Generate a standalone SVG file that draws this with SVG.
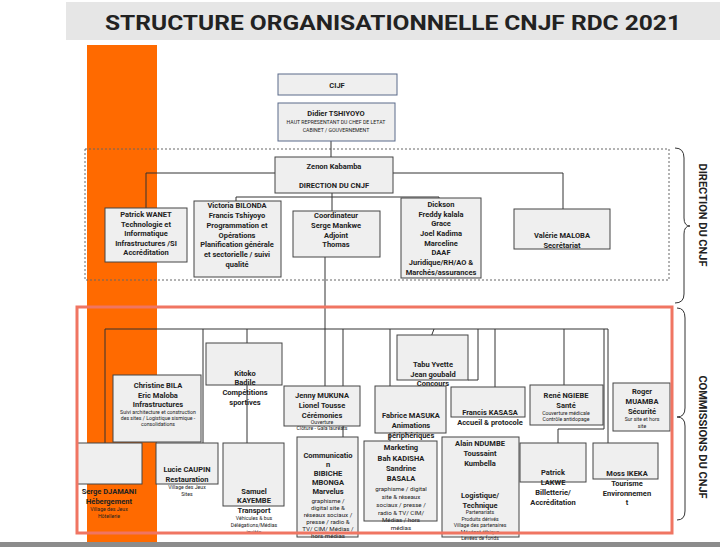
<svg xmlns="http://www.w3.org/2000/svg" width="720" height="547" viewBox="0 0 720 547">
<defs>
<style>
.box{fill:#efefef;stroke:#444;stroke-width:1}
.box2{fill:#efefef;stroke:#5a6a8a;stroke-width:1}
.ln{stroke:#333;stroke-width:1;fill:none}
.t{font-family:Roboto,"Liberation Sans",sans-serif;font-size:7.5px;font-weight:bold;fill:#222;text-anchor:middle}
.s{font-size:5.2px;font-weight:normal}
.m{font-size:6.2px;font-weight:normal}
.side{font-family:Roboto,"Liberation Sans",sans-serif;font-size:11px;font-weight:bold;fill:#222;text-anchor:middle}
</style>
</defs>
<rect x="0" y="0" width="720" height="547" fill="#ffffff"/>
<rect x="66" y="2" width="654" height="38" fill="#e6e6e6"/>
<text x="393" y="30" font-family="Roboto,'Liberation Sans',sans-serif" font-size="21" font-weight="bold" fill="#222" text-anchor="middle" textLength="576" lengthAdjust="spacingAndGlyphs">STRUCTURE ORGANISATIONNELLE CNJF RDC 2021</text>
<rect x="87" y="45" width="70" height="502" fill="#ff6a00"/>
<rect x="85" y="149" width="584" height="131" fill="none" stroke="#666" stroke-width="1" stroke-dasharray="2,2"/>

<g id="connectors">
<path class="ln" d="M331,141 V157"/>
<path class="ln" d="M275,173 H146 V208"/>
<path class="ln" d="M393,173 H563 V209"/>
<path class="ln" d="M332,190 V211"/>
<path class="ln" d="M236,201 V197 H439 V198"/>
<path class="ln" d="M325,257 V386"/>
<path class="ln" d="M105,329 H608"/>
<path class="ln" d="M105,329 V443"/>
<path class="ln" d="M203,329 V443"/>
<path class="ln" d="M247,329 V443"/>
<path class="ln" d="M343,329 V437"/>
<path class="ln" d="M390,329 V441"/>
<path class="ln" d="M431,337 L434,329"/>
<path class="ln" d="M478,329 V380 H468"/>
<path class="ln" d="M495,329 V387"/>
<path class="ln" d="M564,329 V385"/>
<path class="ln" d="M604,329 V429 H558 V443"/>
<path class="ln" d="M608,329 V443"/>
</g>

<g id="cijf"><rect class="box2" x="278" y="74" width="119" height="21"/><text class="t" x="337" y="88">CIJF</text></g>
<g id="didier"><rect class="box2" x="278" y="103" width="117" height="38"/>
<text class="t" x="336" y="116">Didier TSHIYOYO</text>
<text class="t s" x="336" y="124">HAUT REPRESENTANT DU CHEF DE LETAT</text>
<text class="t s" x="336" y="132">CABINET / GOUVERNEMENT</text></g>
<g id="zenon"><rect class="box" x="275" y="157" width="118" height="36"/>
<text class="t" x="334" y="169">Zenon Kabamba</text>
<text class="t" x="334" y="188">DIRECTION DU CNJF</text></g>

<g id="wanet"><rect class="box" x="105" y="208" width="82" height="54"/>
<text class="t" x="146" y="217">Patrick WANET</text>
<text class="t" x="146" y="227">Technologie et</text>
<text class="t" x="146" y="236">Informatique</text>
<text class="t" x="146" y="246">Infrastructures /SI</text>
<text class="t" x="146" y="255">Accréditation</text></g>
<g id="victoria"><rect class="box" x="194" y="201" width="87" height="76"/>
<text class="t" x="237" y="208">Victoria BILONDA</text>
<text class="t" x="237" y="218">Francis Tshiyoyo</text>
<text class="t" x="237" y="228">Programmation et</text>
<text class="t" x="237" y="238">Opérations</text>
<text class="t" x="237" y="247">Planification générale</text>
<text class="t" x="237" y="257">et sectorielle / suivi</text>
<text class="t" x="237" y="267">qualité</text></g>
<g id="coord"><rect class="box" x="293" y="211" width="87" height="46"/>
<text class="t" x="336" y="218">Coordinateur</text>
<text class="t" x="336" y="228">Serge Mankwe</text>
<text class="t" x="336" y="238">Adjoint</text>
<text class="t" x="336" y="247">Thomas</text></g>
<g id="dickson"><rect class="box" x="401" y="198" width="80" height="80"/>
<text class="t" x="441" y="207">Dickson</text>
<text class="t" x="441" y="217">Freddy kalala</text>
<text class="t" x="441" y="226">Grace</text>
<text class="t" x="441" y="236">Joel Kadima</text>
<text class="t" x="441" y="246">Marceline</text>
<text class="t" x="441" y="255">DAAF</text>
<text class="t" x="441" y="265">Juridique/RH/AO &amp;</text>
<text class="t" x="441" y="275">Marchés/assurances</text></g>
<g id="valerie"><rect class="box" x="514" y="209" width="96" height="40"/>
<text class="t" x="562" y="238">Valérie MALOBA</text>
<text class="t" x="562" y="248">Secrétariat</text></g>

<g id="christine"><rect class="box" x="113" y="375" width="88" height="67"/>
<text class="t" x="158" y="388">Christine BILA</text>
<text class="t" x="158" y="398">Eric Maloba</text>
<text class="t" x="158" y="407">Infrastructures</text>
<text class="t s" x="158" y="414">Suivi architecture et construction</text>
<text class="t s" x="158" y="420">des sites / Logistique sismique -</text>
<text class="t s" x="158" y="426">consolidations</text></g>
<g id="kitoko"><rect class="box" x="206" y="343" width="76" height="42"/>
<text class="t" x="245" y="376">Kitoko</text>
<text class="t" x="245" y="385">Badile</text>
<text class="t" x="245" y="395">Compétitions</text>
<text class="t" x="245" y="405">sportives</text></g>
<g id="serge"><rect class="box" x="77" y="443" width="65" height="41"/>
<text class="t" x="109" y="494">Serge DJAMANI</text>
<text class="t" x="109" y="504">Hébergement</text>
<text class="t s" x="109" y="511">Village des Jeux</text>
<text class="t s" x="109" y="518">Hôtellerie</text></g>
<g id="lucie"><rect class="box" x="156" y="443" width="62" height="41"/>
<text class="t" x="187" y="472">Lucie CAUPIN</text>
<text class="t" x="187" y="482">Restauration</text>
<text class="t s" x="187" y="489">Village des Jeux</text>
<text class="t s" x="187" y="496">Sites</text></g>
<g id="samuel"><rect class="box" x="223" y="443" width="61" height="63"/>
<text class="t" x="254" y="494">Samuel</text>
<text class="t" x="254" y="503">KAYEMBE</text>
<text class="t" x="254" y="513">Transport</text>
<text class="t s" x="254" y="520">Véhicules &amp; bus</text>
<text class="t s" x="254" y="527">Délégations/Médias</text>
<text class="t s" x="254" y="534">invités</text></g>
<g id="jenny"><rect class="box" x="284" y="386" width="76" height="40"/>
<text class="t" x="322" y="398">Jenny MUKUNA</text>
<text class="t" x="322" y="408">Lionel Tousse</text>
<text class="t" x="322" y="418">Cérémonies</text>
<text class="t s" x="322" y="424">Ouverture</text>
<text class="t s" x="322" y="430">Clôture - Gala lauréats</text></g>
<g id="communication"><rect class="box" x="297" y="437" width="61" height="100"/>
<text class="t" x="328" y="458">Communicatio</text>
<text class="t" x="328" y="467">n</text>
<text class="t" x="328" y="476">BIBICHE</text>
<text class="t" x="328" y="485">MBONGA</text>
<text class="t" x="328" y="494">Marvelus</text>
<text class="t m" x="328" y="503">graphisme /</text>
<text class="t m" x="328" y="510">digital site &amp;</text>
<text class="t m" x="328" y="517">réseaux sociaux /</text>
<text class="t m" x="328" y="524">presse / radio &amp;</text>
<text class="t m" x="328" y="531">TV/ CIM/ Médias /</text>
<text class="t m" x="328" y="538">hors médias</text></g>
<g id="tabu"><rect class="box" x="397" y="335" width="71" height="45"/>
<text class="t" x="433" y="367">Tabu Yvette</text>
<text class="t" x="433" y="377">Jean goubald</text>
<text class="t" x="433" y="386">Concours</text></g>
<g id="fabrice"><rect class="box" x="375" y="386" width="71" height="47"/>
<text class="t" x="411" y="418">Fabrice MASUKA</text>
<text class="t" x="411" y="428">Animations</text>
<text class="t" x="411" y="438">périphériques</text></g>
<g id="marketing"><rect class="box" x="364" y="441" width="73" height="80"/>
<text class="t" x="401" y="450" font-size="8.5">Marketing</text>
<text class="t" x="401" y="461">Bah KADISHA</text>
<text class="t" x="401" y="471">Sandrine</text>
<text class="t" x="401" y="481">BASALA</text>
<text class="t m" x="401" y="491">graphisme / digital</text>
<text class="t m" x="401" y="499">site &amp; réseaux</text>
<text class="t m" x="401" y="507">sociaux / presse /</text>
<text class="t m" x="401" y="515">radio &amp; TV/ CIM/</text>
<text class="t m" x="401" y="522">Médias / hors</text>
<text class="t m" x="401" y="530">médias</text></g>
<g id="francis"><rect class="box" x="451" y="387" width="74" height="30"/>
<text class="t" x="490" y="415">Francis KASASA</text>
<text class="t" x="490" y="425">Accueil &amp; protocole</text></g>
<g id="alain"><rect class="box" x="442" y="437" width="77" height="100"/>
<text class="t" x="480" y="446">Alain NDUMBE</text>
<text class="t" x="480" y="456">Toussaint</text>
<text class="t" x="480" y="466">Kumbella</text>
<text class="t" x="480" y="498">Logistique/</text>
<text class="t" x="480" y="508">Technique</text>
<text class="t s" x="480" y="514">Partenariats</text>
<text class="t s" x="480" y="521">Produits dérivés</text>
<text class="t s" x="480" y="527">Village des partenaires</text>
<text class="t s" x="480" y="534">Mécénat éthique</text>
<text class="t s" x="480" y="540">Levées de fonds</text></g>
<g id="rene"><rect class="box" x="530" y="385" width="73" height="40"/>
<text class="t" x="566" y="398">René NGIEBE</text>
<text class="t" x="566" y="408">Santé</text>
<text class="t s" x="566" y="415">Couverture médicale</text>
<text class="t s" x="566" y="421">Contrôle antidopage</text></g>
<g id="roger"><rect class="box" x="613" y="383" width="57" height="48"/>
<text class="t" x="642" y="394">Roger</text>
<text class="t" x="642" y="404">MUAMBA</text>
<text class="t" x="642" y="414">Sécurité</text>
<text class="t s" x="642" y="421">Sur site et hors</text>
<text class="t s" x="642" y="428">site</text></g>
<g id="lakwe"><rect class="box" x="520" y="443" width="66" height="39"/>
<text class="t" x="553" y="475">Patrick</text>
<text class="t" x="553" y="485">LAKWE</text>
<text class="t" x="553" y="495">Billetterie/</text>
<text class="t" x="553" y="505">Accréditation</text></g>
<g id="moss"><rect class="box" x="593" y="443" width="65" height="36"/>
<text class="t" x="627" y="476">Moss IKEKA</text>
<text class="t" x="627" y="486">Tourisme</text>
<text class="t" x="627" y="496">Environnemen</text>
<text class="t" x="627" y="505">t</text></g>

<rect x="77" y="307" width="595" height="226" fill="none" stroke="#f07562" stroke-width="3"/>

<g id="braces">
<path class="ln" d="M675,148 Q684,148 684,158 V218 Q684,226 690,226 Q684,226 684,234 V294 Q684,303 675,303"/>
<path class="ln" d="M677,308 Q685,308 685,318 V408 Q685,417 677,417 Q685,417 685,426 V511 Q685,520 677,520"/>
</g>
<text class="side" transform="translate(699,215) rotate(90)">DIRECTION DU CNJF</text>
<text class="side" transform="translate(699,437) rotate(90)">COMMISSIONS DU CNJF</text>
<rect x="0" y="542" width="720" height="5" fill="#8c8c8c"/>
</svg>
